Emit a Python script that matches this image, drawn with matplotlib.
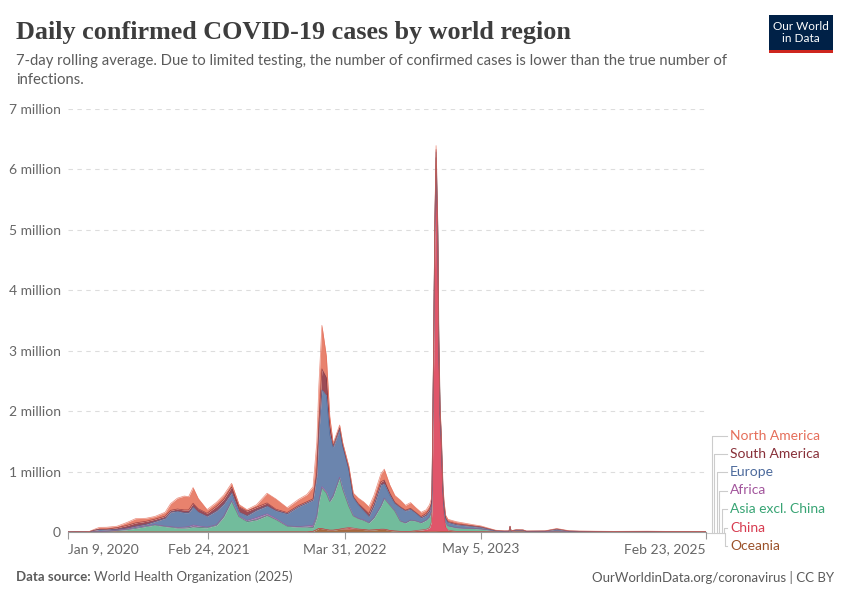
import matplotlib
matplotlib.use("Agg")
import matplotlib.pyplot as plt
import matplotlib.dates as mdates
from matplotlib.lines import Line2D
from matplotlib.patches import Rectangle
import pandas as pd
import numpy as np

# ---------------- data (daily confirmed cases, thousands, 7-day avg) ----------------
dates = [
    "2020-01-09", "2020-02-05", "2020-02-20", "2020-03-10", "2020-03-25", "2020-04-10",
    "2020-05-01", "2020-06-01", "2020-07-01", "2020-07-25", "2020-08-25", "2020-09-20",
    "2020-10-20", "2020-11-05", "2020-11-25", "2020-12-15", "2020-12-28", "2021-01-10",
    "2021-01-25", "2021-02-20", "2021-03-20", "2021-04-10", "2021-05-03", "2021-05-25",
    "2021-06-17", "2021-07-15", "2021-08-15", "2021-09-10", "2021-10-13", "2021-11-15",
    "2021-12-10", "2021-12-28", "2022-01-08", "2022-01-14", "2022-01-23", "2022-02-05",
    "2022-02-15", "2022-02-25", "2022-03-16", "2022-03-25", "2022-04-12", "2022-04-25",
    "2022-05-10", "2022-05-25", "2022-06-10", "2022-06-25", "2022-07-15", "2022-07-25",
    "2022-08-10", "2022-08-25", "2022-09-10", "2022-09-25", "2022-10-10", "2022-10-25",
    "2022-11-10", "2022-11-25", "2022-12-05", "2022-12-10", "2022-12-12", "2022-12-14",
    "2022-12-17", "2022-12-20", "2022-12-24", "2022-12-29", "2023-01-01", "2023-01-05",
    "2023-01-08", "2023-01-13", "2023-01-16", "2023-01-21", "2023-01-28", "2023-02-22",
    "2023-03-14", "2023-04-13", "2023-05-05", "2023-05-28", "2023-06-17", "2023-07-12",
    "2023-07-26", "2023-07-29", "2023-08-01", "2023-08-16", "2023-09-05", "2023-09-15",
    "2023-11-09", "2023-12-13", "2024-01-18", "2024-02-17", "2024-05-27", "2024-09-04",
    "2024-12-13", "2025-02-23",
]

north_america = [
    0, 0, 0, 0.5, 12, 32, 32, 25, 50, 70, 50, 45,
    65, 110, 180, 230, 220, 260, 170, 60, 65, 70, 60, 40,
    25, 40, 160, 170, 80, 100, 120, 200, 500, 650, 720, 350,
    150, 35, 45, 40, 40, 55, 90, 110, 110, 110, 130, 180,
    130, 110, 110, 80, 95, 80, 70, 60, 70, 70, 70, 70,
    70, 70, 65, 60, 55, 50, 50, 45, 45, 40, 38, 35,
    30, 20, 15, 8, 5, 3, 3, 3, 3, 3, 3, 3,
    3, 8, 4, 3, 2, 3, 2, 1,
]
south_america = [
    0, 0, 0, 0.1, 1, 3, 10, 28, 45, 55, 50, 40,
    35, 30, 35, 45, 45, 60, 55, 50, 75, 80, 95, 85,
    75, 50, 50, 25, 20, 20, 20, 20, 60, 150, 350, 300,
    150, 30, 30, 25, 20, 20, 25, 40, 50, 60, 50, 60,
    40, 25, 15, 10, 15, 10, 20, 30, 40, 40, 40, 40,
    40, 40, 40, 35, 30, 25, 22, 20, 18, 16, 15, 15,
    12, 10, 10, 8, 4, 2, 2, 2, 2, 2, 2, 2,
    1, 2, 2, 2, 2, 2, 1, 1,
]
europe = [
    0, 0, 0.1, 3, 25, 35, 25, 15, 16, 20, 25, 50,
    130, 240, 270, 240, 230, 300, 230, 180, 230, 200, 130, 70,
    80, 120, 130, 130, 200, 330, 380, 420, 650, 1100, 1600, 1600,
    1100, 800, 790, 700, 600, 300, 220, 150, 100, 200, 350, 240,
    160, 120, 220, 200, 180, 130, 80, 80, 90, 90, 90, 90,
    90, 95, 95, 90, 85, 80, 75, 70, 65, 60, 55, 50,
    45, 30, 25, 12, 6, 5, 5, 5, 5, 6, 7, 5,
    8, 30, 8, 5, 3, 4, 3, 2,
]
africa = [
    0, 0, 0, 0.05, 0.3, 0.8, 1.5, 3, 9, 15, 12, 7,
    7, 9, 10, 15, 20, 30, 25, 10, 12, 12, 10, 10,
    20, 40, 30, 20, 8, 6, 20, 40, 35, 30, 25, 20,
    12, 10, 8, 6, 5, 5, 5, 10, 5, 5, 5, 4,
    3, 2, 2, 2, 2, 2, 2, 2, 2, 2, 2, 2,
    2, 2, 2, 2, 2, 1, 1, 1, 1, 1, 1, 1,
    1, 1, 1, 1, 0.5, 0.3, 0.3, 0.3, 0.3, 0.3, 0.3, 0.3,
    0.2, 0.2, 0.2, 0.2, 0.1, 0.1, 0.1, 0.1,
]
asia_excl_china = [
    0, 0.1, 0.5, 1, 3, 6, 10, 25, 40, 60, 90, 115,
    90, 80, 65, 65, 70, 85, 75, 70, 110, 250, 510, 250,
    170, 200, 270, 200, 92, 80, 80, 60, 200, 430, 670, 600,
    470, 560, 850, 650, 350, 200, 170, 150, 120, 200, 380, 510,
    420, 330, 170, 140, 185, 160, 120, 150, 180, 180, 180, 180,
    180, 180, 180, 170, 160, 140, 120, 100, 90, 75, 70, 60,
    55, 55, 45, 30, 12, 7, 8, 85, 10, 25, 22, 5,
    6, 15, 5, 4, 2, 3, 1, 1,
]
china = [
    0, 3, 1.5, 0.03, 0.1, 0.1, 0, 0, 0, 0, 0, 0,
    0, 0, 0, 0, 0, 0.1, 0, 0, 0, 0, 0, 0,
    0, 0, 0, 0, 0, 0, 0, 0, 0, 0, 0.2, 0.2,
    0.3, 1, 3, 8, 25, 20, 5, 1, 0.5, 0.5, 1, 1,
    2, 2, 1, 1, 2, 15, 25, 35, 60, 150, 400, 1400,
    2900, 4700, 6000, 4700, 2900, 1700, 1400, 550, 300, 80, 25, 5,
    3, 1, 1, 0.5, 0.3, 1, 1, 1, 1, 1, 1, 1,
    0.5, 1, 1, 0.5, 0.5, 0.5, 0.3, 0.3,
]
oceania = [
    0, 0, 0, 0.01, 0.3, 0.3, 0.02, 0.02, 0.2, 0.5, 0.4, 0.05,
    0.02, 0.02, 0.02, 0.05, 0.1, 0.02, 0.02, 0.02, 0.02, 0.02, 0.02, 0.02,
    0.02, 0.2, 1, 1.5, 2, 2, 1, 10, 40, 60, 55, 40,
    30, 30, 45, 50, 50, 45, 45, 40, 30, 35, 45, 45,
    25, 15, 10, 8, 8, 8, 8, 10, 12, 12, 12, 12,
    12, 12, 12, 10, 10, 8, 8, 7, 7, 6, 6, 4,
    4, 3, 3, 2, 2, 1, 1, 1, 1, 1, 1, 1,
    1, 2, 1, 1, 1, 1, 0.5, 0.3,
]

# stacking order bottom -> top
region_names = ["Oceania", "China", "Asia excl. China", "Africa", "Europe",
                "South America", "North America"]
region_values = [oceania, china, asia_excl_china, africa, europe,
                 south_america, north_america]
fill_colors = ["#a5683f", "#e0566a", "#72bc9c", "#b06aa8", "#6b85ae",
               "#9b4b56", "#e8826d"]
edge_colors = ["#9a5129", "#d73c50", "#3a9c72", "#a2559c", "#4c6a9c",
               "#883039", "#e56e5a"]
label_colors = ["#9a5129", "#d73c50", "#38a474", "#a2559c", "#4c6a9c",
                "#883039", "#e56e5a"]

x_tick_dates = ["2020-01-09", "2021-02-24", "2022-03-31", "2023-05-05", "2025-02-23"]
x_tick_labels = ["Jan 9, 2020", "Feb 24, 2021", "Mar 31, 2022", "May 5, 2023", "Feb 23, 2025"]
y_ticks = [0, 1e6, 2e6, 3e6, 4e6, 5e6, 6e6, 7e6]
y_tick_labels = ["0", "1 million", "2 million", "3 million", "4 million",
                 "5 million", "6 million", "7 million"]

# ---------------- figure ----------------
BODY = ["Lato", "DejaVu Sans"]
W, H = 850, 600
fig = plt.figure(figsize=(8.5, 6), dpi=100)
fig.patch.set_facecolor("white")

def fx(px):
    return px / W

def fy(py):
    return 1 - py / H

ax = fig.add_axes([fx(68), fy(532), fx(706) - fx(68), fy(109) - fy(532)])

x = mdates.date2num(pd.to_datetime(dates))
base = np.zeros(len(dates))
for vals, fc, ec in zip(region_values, fill_colors, edge_colors):
    top = base + np.array(vals, dtype=float) * 1000
    ax.fill_between(x, base, top, color=fc, linewidth=0, zorder=2)
    ax.plot(x, top, color=ec, linewidth=0.5, alpha=0.8, zorder=3)
    base = top

ax.set_xlim(mdates.date2num(pd.Timestamp("2020-01-09")),
            mdates.date2num(pd.Timestamp("2025-02-23")))
ax.set_ylim(0, 7e6)

ax.set_yticks(y_ticks)
ax.set_yticklabels(y_tick_labels, fontsize=10, color="#666666", family=BODY)
ax.tick_params(axis="y", length=0, pad=5)
ax.yaxis.grid(True, linestyle=(0, (4, 4)), color="#dddddd", linewidth=0.8, zorder=0)
ax.set_axisbelow(True)

xt = mdates.date2num(pd.to_datetime(x_tick_dates))
ax.set_xticks(xt)
ax.set_xticklabels(x_tick_labels, fontsize=10, color="#666666", family=BODY)
labels = ax.get_xticklabels()
labels[0].set_ha("left")
labels[-1].set_ha("right")
ax.tick_params(axis="x", length=5, width=0.8, color="#999999", pad=3)

for s in ["top", "right", "left"]:
    ax.spines[s].set_visible(False)
ax.spines["bottom"].set_color("#999999")
ax.spines["bottom"].set_linewidth(0.8)
ax.spines["bottom"].set_zorder(4)

# ---------------- legend labels with connector lines ----------------
label_y = [546, 527.5, 509, 490.5, 472, 453.5, 435.5]  # Oceania ... North America
conn_x = [724.5, 724, 721.5, 719, 716.5, 714, 711.5]
line_color = "#cccccc"
fig.add_artist(Line2D([fx(707), fx(724)], [fy(532.5), fy(532.5)],
                      transform=fig.transFigure, color=line_color, lw=0.8))
for name, ly, cx, col in zip(region_names, label_y, conn_x, label_colors):
    fig.add_artist(Line2D([fx(cx), fx(cx), fx(727)], [fy(532.5), fy(ly), fy(ly)],
                          transform=fig.transFigure, color=line_color, lw=0.8))
    fig.text(fx(730), fy(ly), name, color=col, fontsize=10, family=BODY,
             va="center", ha="left")

# ---------------- titles ----------------
fig.text(fx(16), fy(32), "Daily confirmed COVID-19 cases by world region",
         fontsize=18.8, family=["Liberation Serif", "DejaVu Serif"], color="#3d3d3d",
         weight="bold", va="center", ha="left")
fig.text(fx(16), fy(61),
         "7-day rolling average. Due to limited testing, the number of confirmed cases is lower than the true number of",
         fontsize=10.75, family=BODY, color="#5b5b5b", va="center", ha="left")
fig.text(fx(16), fy(80), "infections.",
         fontsize=10.75, family=BODY, color="#5b5b5b", va="center", ha="left")

# logo
fig.add_artist(Rectangle((fx(769), fy(50)), fx(833) - fx(769), fy(15) - fy(50),
                         transform=fig.transFigure, facecolor="#002147", edgecolor="none"))
fig.add_artist(Rectangle((fx(769), fy(52.5)), fx(833) - fx(769), fy(50) - fy(52.5),
                         transform=fig.transFigure, facecolor="#ce261e", edgecolor="none"))
fig.text(fx(801), fy(32.5), "Our World\nin Data", fontsize=8.5, family=BODY,
         color="white", ha="center", va="center", linespacing=1.0)

# footer
fig.text(fx(16), fy(577), "Data source:", fontsize=9.5, family=BODY,
         color="#5b5b5b", weight="bold", va="center", ha="left")
fig.text(fx(94), fy(577), "World Health Organization (2025)", fontsize=9.5, family=BODY,
         color="#5b5b5b", va="center", ha="left")
fig.text(fx(834), fy(577), "OurWorldinData.org/coronavirus | CC BY", fontsize=9.5,
         family=BODY, color="#5b5b5b", va="center", ha="right")

fig.savefig("out.png", dpi=100, facecolor="white")
